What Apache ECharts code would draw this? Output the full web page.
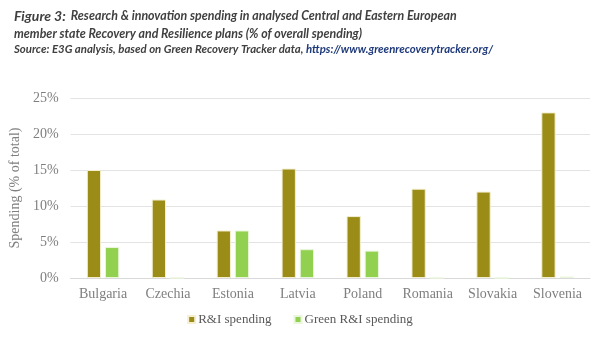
<!DOCTYPE html>
<html><head><meta charset="utf-8">
<script src="https://cdn.jsdelivr.net/npm/echarts@6/dist/echarts.min.js"></script>
<style>html,body{margin:0;padding:0;background:#fff}#c{width:600px;height:337px}</style>
</head><body><div id="c"></div>
<script>
const categories = ['Bulgaria','Czechia','Estonia','Latvia','Poland','Romania','Slovakia','Slovenia'];
const riSpending = [15.0, 10.9, 6.6, 15.2, 8.6, 12.4, 12.0, 23.0];
const greenRiSpending = [4.3, 0, 6.6, 4.0, 3.8, 0, 0, 0.2];
const yTicks = [0, 5, 10, 15, 20, 25];
const seriesNames = ['R&I spending', 'Green R&I spending'];

const serif = '"Liberation Serif", "DejaVu Serif", serif';
const sans = 'Lato, "Open Sans", sans-serif';
const chart = echarts.init(document.getElementById('c'), null, {renderer:'canvas'});
chart.setOption({
  animation: false,
  backgroundColor: '#fff',
  title: [
    {
      left: 9, top: 2,
      text: '{a|Figure 3:} {b|Research & innovation spending in analysed Central and Eastern European}\n{b|member state Recovery and Resilience plans (% of overall spending)}',
      textStyle: {
        rich: {
          a: {fontFamily: sans, fontStyle: 'italic', fontSize: 14, color: '#404040', lineHeight: 17},
          b: {fontFamily: sans, fontStyle: 'italic', fontSize: 12.4, color: '#404040', lineHeight: 17}
        }
      }
    },
    {
      left: 9, top: 39,
      text: '{c|Source: E3G analysis, based on Green Recovery Tracker data, }{d|https://www.greenrecoverytracker.org/}',
      textStyle: {
        rich: {
          c: {fontFamily: sans, fontStyle: 'italic', fontSize: 11.4, color: '#404040'},
          d: {fontFamily: sans, fontStyle: 'italic', fontWeight: 'bold', fontSize: 11.4, color: '#1F3A7A'}
        }
      }
    }
  ],
  legend: {
    data: seriesNames,
    bottom: 6, left: 'center',
    itemWidth: 7, itemHeight: 7, itemGap: 22,
    icon: 'rect',
    textStyle: {fontFamily: serif, fontSize: 13, color: '#595959', padding: [0,0,0,-2]}
  },
  grid: {left: 70, right: 10, top: 98, bottom: 59},
  xAxis: {
    type: 'category', data: categories,
    axisLine: {lineStyle: {color: '#d9d9d9'}},
    axisTick: {show: false},
    axisLabel: {interval: 0, fontFamily: serif, fontSize: 14, color: '#7f7f7f', margin: 9}
  },
  yAxis: {
    type: 'value', min: yTicks[0], max: yTicks[yTicks.length-1], interval: 5,
    name: 'Spending (% of total)', nameLocation: 'middle', nameGap: 39,
    nameTextStyle: {fontFamily: serif, fontSize: 14, color: '#7f7f7f'},
    axisLine: {show: false}, axisTick: {show: false},
    splitLine: {lineStyle: {color: '#e3e3e3'}},
    axisLabel: {fontFamily: serif, fontSize: 14, color: '#7f7f7f', margin: 12, formatter: v => v + '%'}
  },
  series: [
    {name: seriesNames[0], type: 'bar', data: riSpending, barWidth: '22%', barGap: '27%',
     itemStyle: {color: '#9A8C16', borderColor: '#f3efd0', borderWidth: 1}},
    {name: seriesNames[1], type: 'bar', data: greenRiSpending, barWidth: '22%',
     itemStyle: {color: '#92D050', borderColor: '#eaf6dc', borderWidth: 1}}
  ]
});
</script></body></html>
